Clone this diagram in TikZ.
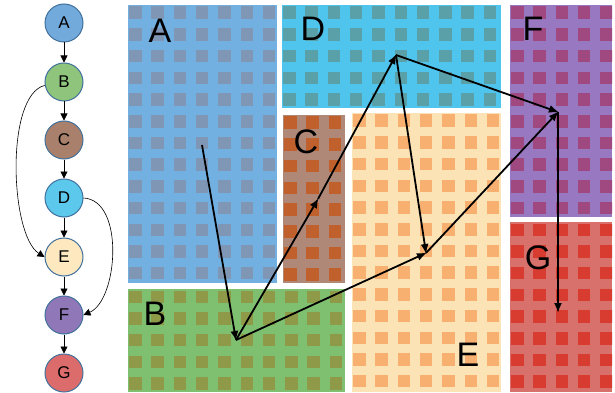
\documentclass[tikz,border=0pt]{standalone}
\usepackage{fontspec}
\setmainfont{Liberation Sans}
\usetikzlibrary{arrows.meta}
\definecolor{nodeedge}{HTML}{41719C}
\definecolor{cA}{HTML}{72AADC}
\definecolor{cB}{HTML}{8FC47C}
\definecolor{cC}{HTML}{A8806C}
\definecolor{cD}{HTML}{5BC8EC}
\definecolor{cE}{HTML}{FDE8C0}
\definecolor{cF}{HTML}{9078B8}
\definecolor{cG}{HTML}{DC6C6C}
\definecolor{bgA}{HTML}{72B0E2}\definecolor{sqA}{HTML}{7F96B5}
\definecolor{bgB}{HTML}{7FC070}\definecolor{sqB}{HTML}{8F9A48}
\definecolor{bgC}{HTML}{B08878}\definecolor{sqC}{HTML}{C0602C}
\definecolor{bgD}{HTML}{4FC4EC}\definecolor{sqD}{HTML}{5AA0A8}
\definecolor{bgE}{HTML}{FBE3B6}\definecolor{sqE}{HTML}{F8B070}
\definecolor{bgF}{HTML}{9878C0}\definecolor{sqF}{HTML}{A04880}
\definecolor{bgG}{HTML}{D8706C}\definecolor{sqG}{HTML}{D83C30}
\newcommand\tmtile[6]{%
  \begin{scope}
    \clip (#1,#2) rectangle (#3,#4);
    \fill[#5] (#1,#2) rectangle (#3,#4);
    \foreach \i in {0,...,22}{\foreach \j in {0,...,18}{
      \fill[#6] ({#1+1+22.3*\i},{#2+1.5+21.7*\j}) rectangle +(12.5,12.5);}}
  \end{scope}}
\tikzset{
  gnode/.style={circle, draw=nodeedge, line width=1pt, minimum size=38pt, inner sep=0pt, font=\fontsize{17}{17}\selectfont},
  garrow/.style={-{Triangle[length=7pt,width=7pt]}, line width=0.6pt},
  tlabel/.style={font=\fontsize{34}{34}\selectfont, inner sep=0pt},
  tarrow/.style={-{Latex[length=10pt,width=8pt]}, line width=1.8pt, shorten >=-1pt}
}
\begin{document}
\begin{tikzpicture}[x=1pt,y=-1pt]
\useasboundingbox (0,0) rectangle (615,393);
\fill[white] (0,0) rectangle (615,393);
% left graph
\node[gnode, fill=cA] (A) at (64,23) {A};
\node[gnode, fill=cB] (B) at (64,82) {B};
\node[gnode, fill=cC] (C) at (64,140) {C};
\node[gnode, fill=cD] (D) at (64,198) {D};
\node[gnode, fill=cE] (E) at (64,257) {E};
\node[gnode, fill=cF] (F) at (64,315) {F};
\node[gnode, fill=cG] (G) at (64,373) {G};
\draw[garrow] (A) -- (B);
\draw[garrow] (B) -- (C);
\draw[garrow] (C) -- (D);
\draw[garrow] (D) -- (E);
\draw[garrow] (E) -- (F);
\draw[garrow] (F) -- (G);
\draw[garrow] (B.190) .. controls (5,95) and (10,235) .. (E.west);
\draw[garrow] (D.east) .. controls (125,200) and (118,300) .. (F.east);
% treemap
\tmtile{128}{5}{277}{283}{bgA}{sqA}
\tmtile{282}{5}{501}{108}{bgD}{sqD}
\tmtile{283}{115}{345}{283}{bgC}{sqC}
\tmtile{352}{113}{501}{392}{bgE}{sqE}
\tmtile{510}{5}{612}{217}{bgF}{sqF}
\tmtile{510}{222}{612}{392}{bgG}{sqG}
\tmtile{128}{289}{345}{392}{bgB}{sqB}
\node[tlabel] (lA) at (160,31) {A};
\node[tlabel] (lD) at (313,29) {D};
\node[tlabel] (lF) at (533,29) {F};
\node[tlabel] (lC) at (306,142) {C};
\node[tlabel] (lB) at (155,314) {B};
\node[tlabel] (lG) at (538,258) {G};
\node[tlabel] (lE) at (468,355) {E};
\coordinate (pA) at (202,145);
\coordinate (pB) at (236,340);
\coordinate (pC) at (318,199);
\coordinate (pD) at (396,55);
\coordinate (pE) at (426,253);
\coordinate (pF) at (558,112);
\coordinate (pG) at (558,312);
\draw[tarrow] (pA) -- (pB);
\draw[tarrow] (pB) -- (pC);
\draw[tarrow] (pC) -- (pD);
\draw[tarrow] (pD) -- (pE);
\draw[tarrow] (pB) -- (pE);
\draw[tarrow] (pE) -- (pF);
\draw[tarrow] (pD) -- (pF);
\draw[tarrow] (pF) -- (pG);
\end{tikzpicture}
\end{document}
